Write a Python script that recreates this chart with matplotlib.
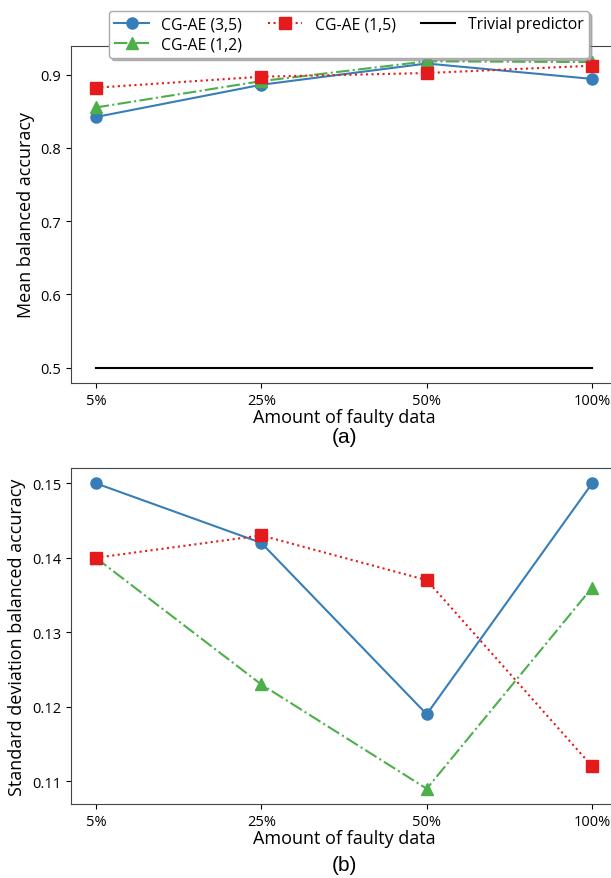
import numpy as np
import matplotlib
matplotlib.use('Agg')
import matplotlib.pyplot as plt

plt.rcParams['font.family'] = ['Open Sans', 'DejaVu Sans']

# Данные
categories = ['5%', '25%', '50%', '100%']

mean_35 = [0.842, 0.886, 0.915, 0.894]
mean_12 = [0.855, 0.891, 0.918, 0.917]
mean_15 = [0.882, 0.897, 0.902, 0.912]
trivial = [0.5, 0.5, 0.5, 0.5]

std_35 = [0.150, 0.142, 0.119, 0.150]
std_12 = [0.140, 0.123, 0.109, 0.136]
std_15 = [0.140, 0.143, 0.137, 0.112]

c_blue = '#377eb8'
c_green = '#4daf4a'
c_red = '#e41a1c'

x = np.arange(len(categories))

fig = plt.figure(figsize=(6.11, 8.79), dpi=100)
W, H = 611, 879
ax1 = fig.add_axes([71 / W, (H - 384) / H, 546 / W, 337 / H])
ax2 = fig.add_axes([71 / W, (H - 805) / H, 546 / W, 336 / H])

# (a) среднее
h35, = ax1.plot(x, mean_35, '-', marker='o', color=c_blue, ms=8, label='CG-AE (3,5)')
h12, = ax1.plot(x, mean_12, '-.', marker='^', color=c_green, ms=8, label='CG-AE (1,2)')
h15, = ax1.plot(x, mean_15, ':', marker='s', color=c_red, ms=8, label='CG-AE (1,5)')
ht, = ax1.plot(x, trivial, '-', color='black', label='Trivial predictor')

# (b) стандартное отклонение
ax2.plot(x, std_35, '-', marker='o', color=c_blue, ms=8)
ax2.plot(x, std_12, '-.', marker='^', color=c_green, ms=8)
ax2.plot(x, std_15, ':', marker='s', color=c_red, ms=8)

for ax in (ax1, ax2):
    ax.set_xticks(x)
    ax.set_xticklabels(categories)
    ax.tick_params(labelsize=10.5)
    ax.set_xlabel('Amount of faulty data', fontsize=13, labelpad=0)
    for s in ax.spines.values():
        s.set_color('#444444')

ax1.set_ylabel('Mean balanced accuracy', fontsize=13)
ax2.set_ylabel('Standard deviation balanced accuracy', fontsize=13)
ax1.set_yticks([0.5, 0.6, 0.7, 0.8, 0.9])
ax2.set_yticks([0.11, 0.12, 0.13, 0.14, 0.15])

fig.legend(handles=[h35, h12, h15, ht], ncol=3, fontsize=11.3,
           loc='upper left', bbox_to_anchor=(101 / W, 1 - 4 / H),
           framealpha=1, edgecolor='#aaaaaa', fancybox=True,
           shadow={'color': '0.55', 'alpha': 0.6, 'ox': 2, 'oy': -2},
           columnspacing=1.6, handlelength=2.2, borderpad=0.35, labelspacing=0.25)

fig.text(344 / W, 1 - 438 / H, '(a)', ha='center', va='center', fontsize=15,
         family='Liberation Sans')
fig.text(344 / W, 1 - 866 / H, '(b)', ha='center', va='center', fontsize=15,
         family='Liberation Sans')

fig.savefig('out.png', dpi=100)
